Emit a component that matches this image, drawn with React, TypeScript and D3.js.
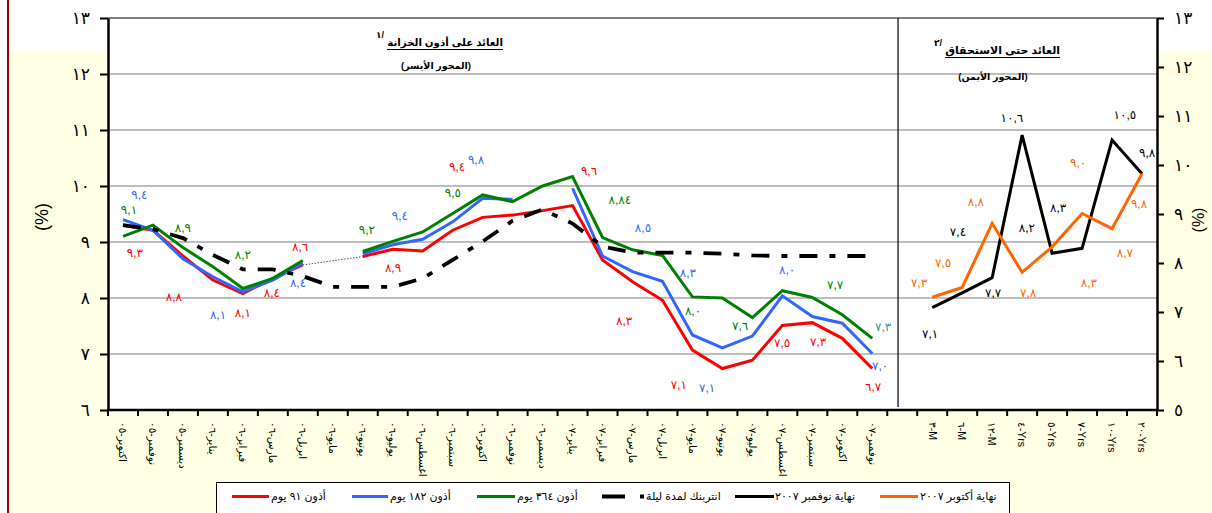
import React, { useEffect, useRef } from 'react';
import * as d3 from 'd3';

// ---------- data ----------
const leftCategories = [
  'اكتوبر-٠٥', 'نوفمبر-٠٥', 'ديسمبر-٠٥', 'يناير-٠٦', 'فبراير-٠٦', 'مارس-٠٦', 'ابريل-٠٦',
  'مايو-٠٦', 'يونيو-٠٦', 'يوليو-٠٦', 'اغسطس-٠٦', 'سبتمبر-٠٦', 'اكتوبر-٠٦', 'نوفمبر-٠٦',
  'ديسمبر-٠٦', 'يناير-٠٧', 'فبراير-٠٧', 'مارس-٠٧', 'ابريل-٠٧', 'مايو-٠٧', 'يونيو-٠٧',
  'يوليو-٠٧', 'اغسطس-٠٧', 'سبتمبر-٠٧', 'اكتوبر-٠٧', 'نوفمبر-٠٧',
];
const rightCategories = ['٣-M', '٦-M', '١٢-M', '٤-Yrs', '٥-Yrs', '٧-Yrs', '١٠-Yrs', '٢٠-Yrs'];

const tbill91 = [9.30, 9.21, 8.75, 8.32, 8.08, 8.35, 8.59, null, 8.74, 8.87, 8.84, 9.21, 9.44, 9.48, 9.56, 9.65, 8.68, 8.29, 7.96, 7.07, 6.74, 6.89, 7.51, 7.56, 7.28, 6.74];
const tbill182 = [9.40, 9.21, 8.70, 8.38, 8.11, 8.32, 8.62, null, 8.79, 8.95, 9.05, 9.36, 9.78, 9.76, null, 9.96, 8.75, 8.47, 8.30, 7.34, 7.11, 7.32, 8.04, 7.67, 7.55, 7.01];
const tbill364 = [9.10, 9.30, 8.90, 8.56, 8.17, 8.35, 8.67, null, 8.83, 9.01, 9.18, 9.51, 9.84, 9.72, 10.00, 10.17, 9.08, 8.86, 8.76, 8.02, 8.00, 7.65, 8.13, 8.01, 7.70, 7.28];
const interbankOvernight = [9.30, 9.23, 9.07, 8.77, 8.51, 8.51, 8.39, 8.20, 8.20, 8.20, 8.35, 8.68, 9.01, 9.38, 9.58, 9.33, 8.92, 8.81, 8.81, 8.81, 8.79, 8.76, 8.75, 8.75, 8.75, 8.75];

const ytmEndNov2007 = [7.09, 7.39, 7.70, 10.61, 8.20, 8.30, 10.51, 9.82];
const ytmEndOct2007 = [7.30, 7.50, 8.81, 7.81, 8.33, 9.01, 8.70, 9.82];

const leftTicks = [6, 7, 8, 9, 10, 11, 12, 13];
const rightTicks = [5, 6, 7, 8, 9, 10, 11, 12, 13];

const seriesNames = ['أذون ٩١ يوم', 'أذون ١٨٢ يوم', 'أذون ٣٦٤ يوم', 'انتربنك لمدة ليلة', 'نهاية نوفمبر ٢٠٠٧', 'نهاية أكتوبر ٢٠٠٧'];

const leftTitle = 'العائد على أذون الخزانة';
const leftSubtitle = '(المحور الأيسر)';
const rightTitle = 'العائد حتى الاستحقاق';
const rightSubtitle = '(المحور الأيمن)';

// data labels: [text, category position, value on its axis]
const labels91: [string, number, number][] = [
  ['٩,٣', 0.40, 8.80], ['٨,٨', 1.70, 8.02], ['٨,١', 4.00, 7.73], ['٨,٤', 4.97, 8.09],
  ['٨,٦', 5.91, 8.91], ['٨,٩', 9.01, 8.54], ['٩,٤', 11.15, 10.34], ['٩,٦', 15.55, 10.27],
  ['٨,٣', 16.72, 7.59], ['٧,١', 18.55, 6.45], ['٧,٥', 21.99, 7.20], ['٧,٣', 23.19, 7.21],
  ['٦,٧', 25.03, 6.41],
];
const labels182: [string, number, number][] = [
  ['٩,٤', 0.55, 9.84], ['٨,١', 3.17, 7.70], ['٨,٤', 5.84, 8.27], ['٩,٤', 9.24, 9.46],
  ['٩,٨', 11.78, 10.46], ['٨,٥', 17.35, 9.25], ['٨,٣', 18.85, 8.45], ['٧,١', 19.49, 6.39],
  ['٨,٠', 22.16, 8.50], ['٧,٠', 25.26, 6.79],
];
const labels364: [string, number, number][] = [
  ['٩,١', 0.20, 9.58], ['٨,٩', 2.00, 9.25], ['٨,٢', 4.00, 8.77], ['٩,٢', 8.14, 9.21],
  ['٩,٥', 11.01, 9.88], ['٨,٨٤', 16.58, 9.75], ['٨,٠', 19.02, 7.77], ['٧,٦', 20.59, 7.50],
  ['٧,٧', 23.76, 8.23],
];
const labels364Last: [string, number, number][] = [['٧,٣', 25.36, 7.48]];
const labelsNov: [string, number, number][] = [
  ['٧,١', 26.93, 6.55], ['٧,٤', 27.86, 8.63], ['٧,٧', 29.03, 7.39], ['١٠,٦', 29.66, 10.96],
  ['٨,٢', 30.16, 8.71], ['٨,٣', 31.20, 9.12], ['١٠,٥', 33.43, 11.02], ['٩,٨', 34.17, 10.24],
];
const labelsOct: [string, number, number][] = [
  ['٧,٣', 26.56, 7.59], ['٧,٥', 27.36, 8.00], ['٨,٨', 28.46, 9.24], ['٧,٨', 30.20, 7.39],
  ['٨,٣', 32.23, 7.59], ['٩,٠', 31.87, 10.04], ['٨,٧', 33.43, 8.20], ['٩,٨', 33.90, 9.20],
];

// ---------- styles ----------
const C_RED = '#FF0000';
const C_BLUE = '#3366FF';
const C_GREEN = '#008000';
const C_BLACK = '#000000';
const C_ORANGE = '#FF6600';
const C_TEAL = '#339999';
const FONT = "'Liberation Sans', Arial, 'DejaVu Sans', sans-serif";
const toArabic = (s: string | number) => String(s).replace(/\d/g, (d) => '٠١٢٣٤٥٦٧٨٩'[+d]);

export default function App() {
  const ref = useRef<SVGSVGElement>(null);

  useEffect(() => {
    const W = 1212, H = 513;
    const L = 108, R = 1157, T = 18, B = 410;
    const svg = d3.select(ref.current);
    svg.selectAll('*').remove();

    // backgrounds
    svg.append('rect').attr('width', W).attr('height', H).attr('fill', '#fff');
    svg.append('rect').attr('x', 9).attr('y', 51).attr('width', W - 9).attr('height', H - 51).attr('fill', '#FFFFE5');
    svg.append('line').attr('x1', 8).attr('x2', 8).attr('y1', 0).attr('y2', H).attr('stroke', '#A00000').attr('stroke-width', 2);
    svg.append('rect').attr('x', L).attr('y', T).attr('width', R - L).attr('height', B - T).attr('fill', '#fff');

    const cats = [...leftCategories, '', ...rightCategories];
    const x = d3.scaleBand<string>().domain(cats).range([L, R]).padding(0);
    const step = x.step();
    const xi = (i: number) => L + (i + 0.5) * step;
    const yL = d3.scaleLinear().domain([6, 13]).range([B, T]);
    const yR = d3.scaleLinear().domain([5, 13]).range([B, T]);

    // grid
    svg.append('g').selectAll('line').data(leftTicks.filter((t) => t > 6 && t < 13)).join('line')
      .attr('x1', L).attr('x2', R).attr('y1', (d) => yL(d)).attr('y2', (d) => yL(d))
      .attr('stroke', '#a8a8a8').attr('stroke-width', 1.3);
    svg.append('line').attr('x1', L).attr('x2', R).attr('y1', T).attr('y2', T).attr('stroke', '#000').attr('stroke-width', 1.2);

    // separator between panels
    const sepX = x('')! + step * 0.36;
    svg.append('line').attr('x1', sepX).attr('x2', sepX).attr('y1', T).attr('y2', B - 3)
      .attr('stroke', '#333').attr('stroke-width', 1.5);

    // left axis
    const gl = svg.append('g').attr('transform', `translate(${L},0)`)
      .call(d3.axisLeft(yL).tickValues(leftTicks).tickSize(8).tickSizeOuter(0).tickPadding(10)
        .tickFormat((d) => toArabic(d as number)));
    gl.select('.domain').attr('stroke-width', 2.5);
    gl.selectAll('.tick line').attr('stroke-width', 2);
    gl.selectAll('text').attr('font-size', 17).attr('font-family', FONT).attr('fill', '#000');

    // right axis
    const gr = svg.append('g').attr('transform', `translate(${R},0)`)
      .call(d3.axisRight(yR).tickValues(rightTicks).tickSize(7).tickSizeOuter(0).tickPadding(10)
        .tickFormat((d) => toArabic(d as number)));
    gr.select('.domain').attr('stroke-width', 2.5);
    gr.selectAll('.tick line').attr('stroke-width', 2);
    gr.selectAll('text').attr('font-size', 17).attr('font-family', FONT).attr('fill', '#000');

    // bottom axis (ticks at category boundaries)
    svg.append('line').attr('x1', L - 1).attr('x2', R + 1).attr('y1', B).attr('y2', B).attr('stroke', '#000').attr('stroke-width', 2.5);
    svg.append('g').selectAll('line').data(d3.range(cats.length + 1)).join('line')
      .attr('x1', (k) => L + k * step).attr('x2', (k) => L + k * step)
      .attr('y1', B).attr('y2', B + 6).attr('stroke', '#000').attr('stroke-width', 2);
    svg.append('g').selectAll('text').data(cats.filter((c) => c !== '')).join('text')
      .attr('transform', (c) => `translate(${x(c)! + step / 2},${B + 12}) rotate(90)`)
      .attr('dy', '0.35em').attr('text-anchor', 'start')
      .attr('font-size', 10.5).attr('font-family', FONT).attr('fill', '#000')
      .text((c) => c);

    // lines
    const lineLeft = d3.line<number | null>().defined((d) => d != null)
      .x((_, i) => x(leftCategories[i])! + step / 2).y((d) => yL(d as number));
    const lineRight = d3.line<number>()
      .x((_, i) => x(rightCategories[i])! + step / 2).y((d) => yR(d));

    // dotted connector across the gap of the 91-day series
    svg.append('line')
      .attr('x1', x(leftCategories[6])! + step / 2).attr('y1', yL(tbill91[6] as number))
      .attr('x2', x(leftCategories[8])! + step / 2).attr('y2', yL(tbill91[8] as number))
      .attr('stroke', '#000').attr('stroke-width', 1).attr('stroke-dasharray', '1 2');

    const drawLeft = (data: (number | null)[], color: string, extra?: (p: any) => void) => {
      const p = svg.append('path').attr('d', lineLeft(data)!).attr('fill', 'none')
        .attr('stroke', color).attr('stroke-width', 3).attr('stroke-linejoin', 'miter');
      if (extra) extra(p);
    };
    drawLeft(tbill91, C_RED);
    drawLeft(tbill182, C_BLUE);
    drawLeft(tbill364, C_GREEN);
    drawLeft(interbankOvernight, C_BLACK, (p) => p.attr('stroke-width', 3.8).attr('stroke-dasharray', '18 12 6 12'));

    svg.append('path').attr('d', lineRight(ytmEndNov2007)!).attr('fill', 'none').attr('stroke', C_BLACK).attr('stroke-width', 3);
    svg.append('path').attr('d', lineRight(ytmEndOct2007)!).attr('fill', 'none').attr('stroke', C_ORANGE).attr('stroke-width', 3);

    // data labels
    const drawLabels = (arr: [string, number, number][], color: string, y: (v: number) => number) => {
      svg.append('g').selectAll('text').data(arr).join('text')
        .attr('x', (d) => xi(d[1])).attr('y', (d) => y(d[2])).attr('dy', '0.35em')
        .attr('text-anchor', 'middle').attr('font-size', 12).attr('font-family', FONT)
        .attr('fill', color).text((d) => d[0]);
    };
    drawLabels(labels91, C_RED, yL);
    drawLabels(labels182, C_BLUE, yL);
    drawLabels(labels364, C_GREEN, yL);
    drawLabels(labels364Last, C_TEAL, yL);
    drawLabels(labelsNov, C_BLACK, yR);
    drawLabels(labelsOct, C_ORANGE, yR);

    // titles: fitted between xLeft and xRight, underlined, with a superscript note on the left
    const fittedTitle = (txt: string, note: string, xLeft: number, xRight: number, y: number) => {
      const t = svg.append('text').attr('x', xRight).attr('y', y).attr('text-anchor', 'end')
        .attr('font-size', 12).attr('font-weight', 'bold').attr('font-family', FONT).attr('fill', '#000').text(txt);
      const w = (t.node() as SVGTextElement).getComputedTextLength() || (xRight - xLeft);
      t.attr('font-size', (12 * (xRight - xLeft)) / w);
      svg.append('line').attr('x1', xLeft).attr('x2', xRight).attr('y1', y + 3.5).attr('y2', y + 3.5)
        .attr('stroke', '#000').attr('stroke-width', 1.2);
      svg.append('text').attr('x', xLeft - 3).attr('y', y - 8).attr('text-anchor', 'end').attr('font-size', 9)
        .attr('font-family', FONT).attr('font-weight', 'bold').attr('fill', '#000').text(note);
    };
    fittedTitle(leftTitle, toArabic('1') + '/', 387, 503, 46);
    fittedTitle(rightTitle, toArabic('2') + '/', 945, 1060, 54);

    const subtitle = (txt: string, cx: number, y: number) => {
      svg.append('text').attr('x', cx).attr('y', y).attr('text-anchor', 'middle')
        .attr('font-size', 9.5).attr('font-weight', 'bold').attr('font-family', FONT).attr('fill', '#000').text(txt);
    };
    subtitle(leftSubtitle, 436, 69);
    subtitle(rightSubtitle, 993, 80);

    // axis titles
    svg.append('text').attr('transform', 'translate(42,217) rotate(-90)').attr('text-anchor', 'middle')
      .attr('dy', '0.35em').attr('font-size', 18).attr('font-family', FONT).text('(%)');
    svg.append('text').attr('transform', 'translate(1198,220) rotate(-90)').attr('text-anchor', 'middle')
      .attr('dy', '0.35em').attr('font-size', 16).attr('font-family', FONT).text('(%)');

    // legend
    const lg = svg.append('g');
    lg.append('rect').attr('x', 216.5).attr('y', 482.5).attr('width', 793).attr('height', 40)
      .attr('fill', '#fff').attr('stroke', '#000').attr('stroke-width', 1);
    const ly = 496.5;
    const items = [
      { x0: 232, x1: 269, color: C_RED, tx: 271 },
      { x0: 352, x1: 388, color: C_BLUE, tx: 390 },
      { x0: 477, x1: 515, color: C_GREEN, tx: 517 },
      { x0: 602, x1: 625, color: C_BLACK, tx: 646, dashed: true },
      { x0: 735, x1: 774, color: C_BLACK, tx: 775 },
      { x0: 880, x1: 918, color: C_ORANGE, tx: 920 },
    ];
    items.forEach((it, k) => {
      lg.append('line').attr('x1', it.x0).attr('x2', it.x1).attr('y1', ly).attr('y2', ly)
        .attr('stroke', it.color).attr('stroke-width', it.dashed ? 4 : 3);
      if (it.dashed) {
        lg.append('rect').attr('x', 640).attr('y', ly - 2).attr('width', 4).attr('height', 4).attr('fill', '#000');
      }
      lg.append('text').attr('x', it.tx).attr('y', ly).attr('dy', '0.35em').attr('text-anchor', 'start')
        .attr('font-size', 11).attr('font-family', FONT).attr('fill', '#000').text(seriesNames[k]);
    });
  }, []);

  return (
    <div style={{ position: 'absolute', left: 0, top: 0 }}>
      <svg ref={ref} width={1212} height={513} style={{ display: 'block' }} />
    </div>
  );
}
